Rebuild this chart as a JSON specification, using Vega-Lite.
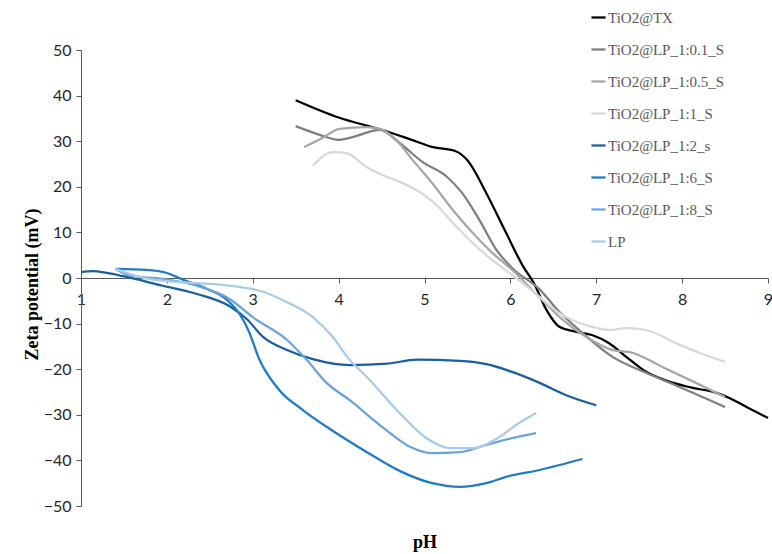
{
  "$schema": "https://vega.github.io/schema/vega-lite/v6.json",
  "autosize": {"type": "none"},
  "padding": {"left": 81, "top": 50, "right": 5, "bottom": 48},
  "width": 687,
  "height": 456,
  "background": "white",
  "config": {"view": {"stroke": null}},
  "data": {"values": [
    {"s":"TiO2@TX","pH":3.5,"z":39},{"s":"TiO2@TX","pH":4.0,"z":35.2},{"s":"TiO2@TX","pH":4.5,"z":32.5},{"s":"TiO2@TX","pH":4.85,"z":30.3},{"s":"TiO2@TX","pH":5.1,"z":28.7},{"s":"TiO2@TX","pH":5.35,"z":27.9},{"s":"TiO2@TX","pH":5.5,"z":25.8},{"s":"TiO2@TX","pH":5.72,"z":18.6},{"s":"TiO2@TX","pH":5.95,"z":9.9},{"s":"TiO2@TX","pH":6.15,"z":2.5},{"s":"TiO2@TX","pH":6.27,"z":-1},{"s":"TiO2@TX","pH":6.42,"z":-7},{"s":"TiO2@TX","pH":6.57,"z":-10.7},{"s":"TiO2@TX","pH":6.77,"z":-11.8},{"s":"TiO2@TX","pH":6.95,"z":-12.5},{"s":"TiO2@TX","pH":7.15,"z":-14.3},{"s":"TiO2@TX","pH":7.35,"z":-17.3},{"s":"TiO2@TX","pH":7.55,"z":-20.2},{"s":"TiO2@TX","pH":7.8,"z":-22.4},{"s":"TiO2@TX","pH":8.1,"z":-24},{"s":"TiO2@TX","pH":8.4,"z":-25.2},{"s":"TiO2@TX","pH":8.55,"z":-26.3},{"s":"TiO2@TX","pH":8.75,"z":-28.3},{"s":"TiO2@TX","pH":9.0,"z":-30.7},
    {"s":"TiO2@LP_1:0.1_S","pH":3.5,"z":33.3},{"s":"TiO2@LP_1:0.1_S","pH":3.78,"z":31.4},{"s":"TiO2@LP_1:0.1_S","pH":4.0,"z":30.3},{"s":"TiO2@LP_1:0.1_S","pH":4.16,"z":30.9},{"s":"TiO2@LP_1:0.1_S","pH":4.48,"z":32.5},{"s":"TiO2@LP_1:0.1_S","pH":4.71,"z":29.6},{"s":"TiO2@LP_1:0.1_S","pH":4.98,"z":25.4},{"s":"TiO2@LP_1:0.1_S","pH":5.26,"z":22.2},{"s":"TiO2@LP_1:0.1_S","pH":5.44,"z":18.6},{"s":"TiO2@LP_1:0.1_S","pH":5.64,"z":12.7},{"s":"TiO2@LP_1:0.1_S","pH":5.84,"z":6.1},{"s":"TiO2@LP_1:0.1_S","pH":6.02,"z":2.2},{"s":"TiO2@LP_1:0.1_S","pH":6.34,"z":-2.5},{"s":"TiO2@LP_1:0.1_S","pH":6.55,"z":-7},{"s":"TiO2@LP_1:0.1_S","pH":6.8,"z":-11.4},{"s":"TiO2@LP_1:0.1_S","pH":7.19,"z":-17.3},{"s":"TiO2@LP_1:0.1_S","pH":7.58,"z":-20.8},{"s":"TiO2@LP_1:0.1_S","pH":7.97,"z":-23.9},{"s":"TiO2@LP_1:0.1_S","pH":8.5,"z":-28.3},
    {"s":"TiO2@LP_1:0.5_S","pH":3.6,"z":28.7},{"s":"TiO2@LP_1:0.5_S","pH":3.81,"z":30.7},{"s":"TiO2@LP_1:0.5_S","pH":4.01,"z":32.7},{"s":"TiO2@LP_1:0.5_S","pH":4.33,"z":33.1},{"s":"TiO2@LP_1:0.5_S","pH":4.48,"z":32.7},{"s":"TiO2@LP_1:0.5_S","pH":4.67,"z":30.3},{"s":"TiO2@LP_1:0.5_S","pH":4.86,"z":25.9},{"s":"TiO2@LP_1:0.5_S","pH":5.09,"z":20.8},{"s":"TiO2@LP_1:0.5_S","pH":5.33,"z":14.9},{"s":"TiO2@LP_1:0.5_S","pH":5.56,"z":9.9},{"s":"TiO2@LP_1:0.5_S","pH":5.79,"z":5.5},{"s":"TiO2@LP_1:0.5_S","pH":6.02,"z":1.8},{"s":"TiO2@LP_1:0.5_S","pH":6.3,"z":-3.5},{"s":"TiO2@LP_1:0.5_S","pH":6.6,"z":-9},{"s":"TiO2@LP_1:0.5_S","pH":6.88,"z":-12.9},{"s":"TiO2@LP_1:0.5_S","pH":7.19,"z":-15.8},{"s":"TiO2@LP_1:0.5_S","pH":7.42,"z":-16.4},{"s":"TiO2@LP_1:0.5_S","pH":7.77,"z":-19.5},{"s":"TiO2@LP_1:0.5_S","pH":8.16,"z":-23},{"s":"TiO2@LP_1:0.5_S","pH":8.5,"z":-26.1},
    {"s":"TiO2@LP_1:1_S","pH":3.7,"z":24.6},{"s":"TiO2@LP_1:1_S","pH":3.93,"z":27.6},{"s":"TiO2@LP_1:1_S","pH":4.09,"z":27.4},{"s":"TiO2@LP_1:1_S","pH":4.33,"z":24.3},{"s":"TiO2@LP_1:1_S","pH":4.51,"z":22.6},{"s":"TiO2@LP_1:1_S","pH":4.71,"z":21.1},{"s":"TiO2@LP_1:1_S","pH":4.94,"z":18.9},{"s":"TiO2@LP_1:1_S","pH":5.14,"z":16},{"s":"TiO2@LP_1:1_S","pH":5.33,"z":12.1},{"s":"TiO2@LP_1:1_S","pH":5.56,"z":7.7},{"s":"TiO2@LP_1:1_S","pH":5.79,"z":3.9},{"s":"TiO2@LP_1:1_S","pH":5.99,"z":1.1},{"s":"TiO2@LP_1:1_S","pH":6.3,"z":-3.5},{"s":"TiO2@LP_1:1_S","pH":6.57,"z":-7.7},{"s":"TiO2@LP_1:1_S","pH":6.95,"z":-10.7},{"s":"TiO2@LP_1:1_S","pH":7.15,"z":-11.4},{"s":"TiO2@LP_1:1_S","pH":7.35,"z":-11},{"s":"TiO2@LP_1:1_S","pH":7.58,"z":-11.4},{"s":"TiO2@LP_1:1_S","pH":7.93,"z":-14.3},{"s":"TiO2@LP_1:1_S","pH":8.2,"z":-16.4},{"s":"TiO2@LP_1:1_S","pH":8.5,"z":-18.4},
    {"s":"TiO2@LP_1:2_s","pH":1.0,"z":1.3},{"s":"TiO2@LP_1:2_s","pH":1.14,"z":1.5},{"s":"TiO2@LP_1:2_s","pH":1.3,"z":1.1},{"s":"TiO2@LP_1:2_s","pH":1.49,"z":0.4},{"s":"TiO2@LP_1:2_s","pH":1.95,"z":-1.7},{"s":"TiO2@LP_1:2_s","pH":2.35,"z":-3.5},{"s":"TiO2@LP_1:2_s","pH":2.73,"z":-6.2},{"s":"TiO2@LP_1:2_s","pH":2.93,"z":-9},{"s":"TiO2@LP_1:2_s","pH":3.12,"z":-12.9},{"s":"TiO2@LP_1:2_s","pH":3.4,"z":-15.8},{"s":"TiO2@LP_1:2_s","pH":3.7,"z":-17.8},{"s":"TiO2@LP_1:2_s","pH":4.13,"z":-19.1},{"s":"TiO2@LP_1:2_s","pH":4.56,"z":-18.8},{"s":"TiO2@LP_1:2_s","pH":4.91,"z":-17.9},{"s":"TiO2@LP_1:2_s","pH":5.41,"z":-18.2},{"s":"TiO2@LP_1:2_s","pH":5.72,"z":-18.9},{"s":"TiO2@LP_1:2_s","pH":6.02,"z":-20.6},{"s":"TiO2@LP_1:2_s","pH":6.34,"z":-23},{"s":"TiO2@LP_1:2_s","pH":6.65,"z":-25.7},{"s":"TiO2@LP_1:2_s","pH":7.0,"z":-27.9},
    {"s":"TiO2@LP_1:6_S","pH":1.4,"z":2.0},{"s":"TiO2@LP_1:6_S","pH":1.77,"z":1.8},{"s":"TiO2@LP_1:6_S","pH":2.0,"z":1.1},{"s":"TiO2@LP_1:6_S","pH":2.19,"z":-0.4},{"s":"TiO2@LP_1:6_S","pH":2.47,"z":-2.4},{"s":"TiO2@LP_1:6_S","pH":2.7,"z":-4.8},{"s":"TiO2@LP_1:6_S","pH":2.85,"z":-8},{"s":"TiO2@LP_1:6_S","pH":2.95,"z":-11.5},{"s":"TiO2@LP_1:6_S","pH":3.08,"z":-18},{"s":"TiO2@LP_1:6_S","pH":3.31,"z":-24.6},{"s":"TiO2@LP_1:6_S","pH":3.58,"z":-28.9},{"s":"TiO2@LP_1:6_S","pH":3.93,"z":-33.5},{"s":"TiO2@LP_1:6_S","pH":4.33,"z":-38.2},{"s":"TiO2@LP_1:6_S","pH":4.71,"z":-42.3},{"s":"TiO2@LP_1:6_S","pH":5.09,"z":-45},{"s":"TiO2@LP_1:6_S","pH":5.41,"z":-45.8},{"s":"TiO2@LP_1:6_S","pH":5.72,"z":-45},{"s":"TiO2@LP_1:6_S","pH":5.95,"z":-43.6},{"s":"TiO2@LP_1:6_S","pH":6.34,"z":-42.1},{"s":"TiO2@LP_1:6_S","pH":6.84,"z":-39.7},
    {"s":"TiO2@LP_1:8_S","pH":1.4,"z":2.0},{"s":"TiO2@LP_1:8_S","pH":1.57,"z":0.5},{"s":"TiO2@LP_1:8_S","pH":1.95,"z":-0.2},{"s":"TiO2@LP_1:8_S","pH":2.35,"z":-1.7},{"s":"TiO2@LP_1:8_S","pH":2.73,"z":-4.6},{"s":"TiO2@LP_1:8_S","pH":3.0,"z":-8.6},{"s":"TiO2@LP_1:8_S","pH":3.4,"z":-13.6},{"s":"TiO2@LP_1:8_S","pH":3.63,"z":-18},{"s":"TiO2@LP_1:8_S","pH":3.86,"z":-23},{"s":"TiO2@LP_1:8_S","pH":4.13,"z":-26.8},{"s":"TiO2@LP_1:8_S","pH":4.51,"z":-32.7},{"s":"TiO2@LP_1:8_S","pH":4.83,"z":-37},{"s":"TiO2@LP_1:8_S","pH":5.09,"z":-38.4},{"s":"TiO2@LP_1:8_S","pH":5.41,"z":-38.2},{"s":"TiO2@LP_1:8_S","pH":5.72,"z":-36.6},{"s":"TiO2@LP_1:8_S","pH":6.02,"z":-35.1},{"s":"TiO2@LP_1:8_S","pH":6.3,"z":-34},
    {"s":"LP","pH":1.4,"z":2.0},{"s":"LP","pH":1.69,"z":0.2},{"s":"LP","pH":2.15,"z":-0.9},{"s":"LP","pH":2.53,"z":-1.3},{"s":"LP","pH":2.85,"z":-2},{"s":"LP","pH":3.08,"z":-2.8},{"s":"LP","pH":3.4,"z":-5.3},{"s":"LP","pH":3.7,"z":-8.6},{"s":"LP","pH":3.93,"z":-12.9},{"s":"LP","pH":4.13,"z":-18},{"s":"LP","pH":4.33,"z":-21.7},{"s":"LP","pH":4.71,"z":-29.6},{"s":"LP","pH":5.02,"z":-35.1},{"s":"LP","pH":5.29,"z":-37.3},{"s":"LP","pH":5.56,"z":-37.3},{"s":"LP","pH":5.87,"z":-34.9},{"s":"LP","pH":6.1,"z":-31.8},{"s":"LP","pH":6.3,"z":-29.6}
  ]},
  "mark": {"type": "line", "interpolate": "monotone", "strokeWidth": 2.25},
  "encoding": {
    "x": {
      "field": "pH", "type": "quantitative",
      "scale": {"domain": [1, 9], "nice": false, "zero": false},
      "axis": {
        "title": "pH", "offset": -228, "grid": false,
        "values": [1,2,3,4,5,6,7,8,9],
        "domainColor": "#595959", "domainWidth": 1,
        "tickColor": "#595959", "tickSize": 5,
        "labelFont": "Lato", "labelFontSize": 16, "labelColor": "#262626", "labelPadding": 8,
        "labelFlush": false,
        "titleFont": "Liberation Serif", "titleFontSize": 18, "titleFontWeight": "bold", "titleColor": "#000000",
        "titleY": 264, "titleBaseline": "middle"
      }
    },
    "y": {
      "field": "z", "type": "quantitative",
      "scale": {"domain": [-50, 50], "nice": false},
      "axis": {
        "title": "Zeta potential (mV)", "grid": false,
        "values": [-50,-40,-30,-20,-10,0,10,20,30,40,50],
        "domainColor": "#595959", "domainWidth": 1,
        "tickColor": "#595959", "tickSize": 5,
        "labelFont": "Lato", "labelFontSize": 16, "labelColor": "#262626", "labelPadding": 5,
        "titleFont": "Liberation Serif", "titleFontSize": 18, "titleFontWeight": "bold", "titleColor": "#000000",
        "titleX": -49, "titleY": 234, "titleBaseline": "middle", "titleAngle": -90, "titleAlign": "center"
      }
    },
    "color": {
      "field": "s", "type": "nominal",
      "scale": {
        "domain": ["TiO2@TX","TiO2@LP_1:0.1_S","TiO2@LP_1:0.5_S","TiO2@LP_1:1_S","TiO2@LP_1:2_s","TiO2@LP_1:6_S","TiO2@LP_1:8_S","LP"],
        "range": ["#000000","#7f7f7f","#a6a6a6","#d9d9d9","#1b5e9e","#1f7bc8","#6aa3d9","#a8cbea"]
      },
      "legend": {
        "title": null, "orient": "none", "legendX": 509, "legendY": -41,
        "symbolType": "stroke", "symbolSize": 200, "symbolStrokeWidth": 2.25,
        "labelFont": "Liberation Serif", "labelFontSize": 15, "labelColor": "#595959",
        "labelOffset": 1, "rowPadding": 15, "labelLimit": 300
      }
    }
  }
}
